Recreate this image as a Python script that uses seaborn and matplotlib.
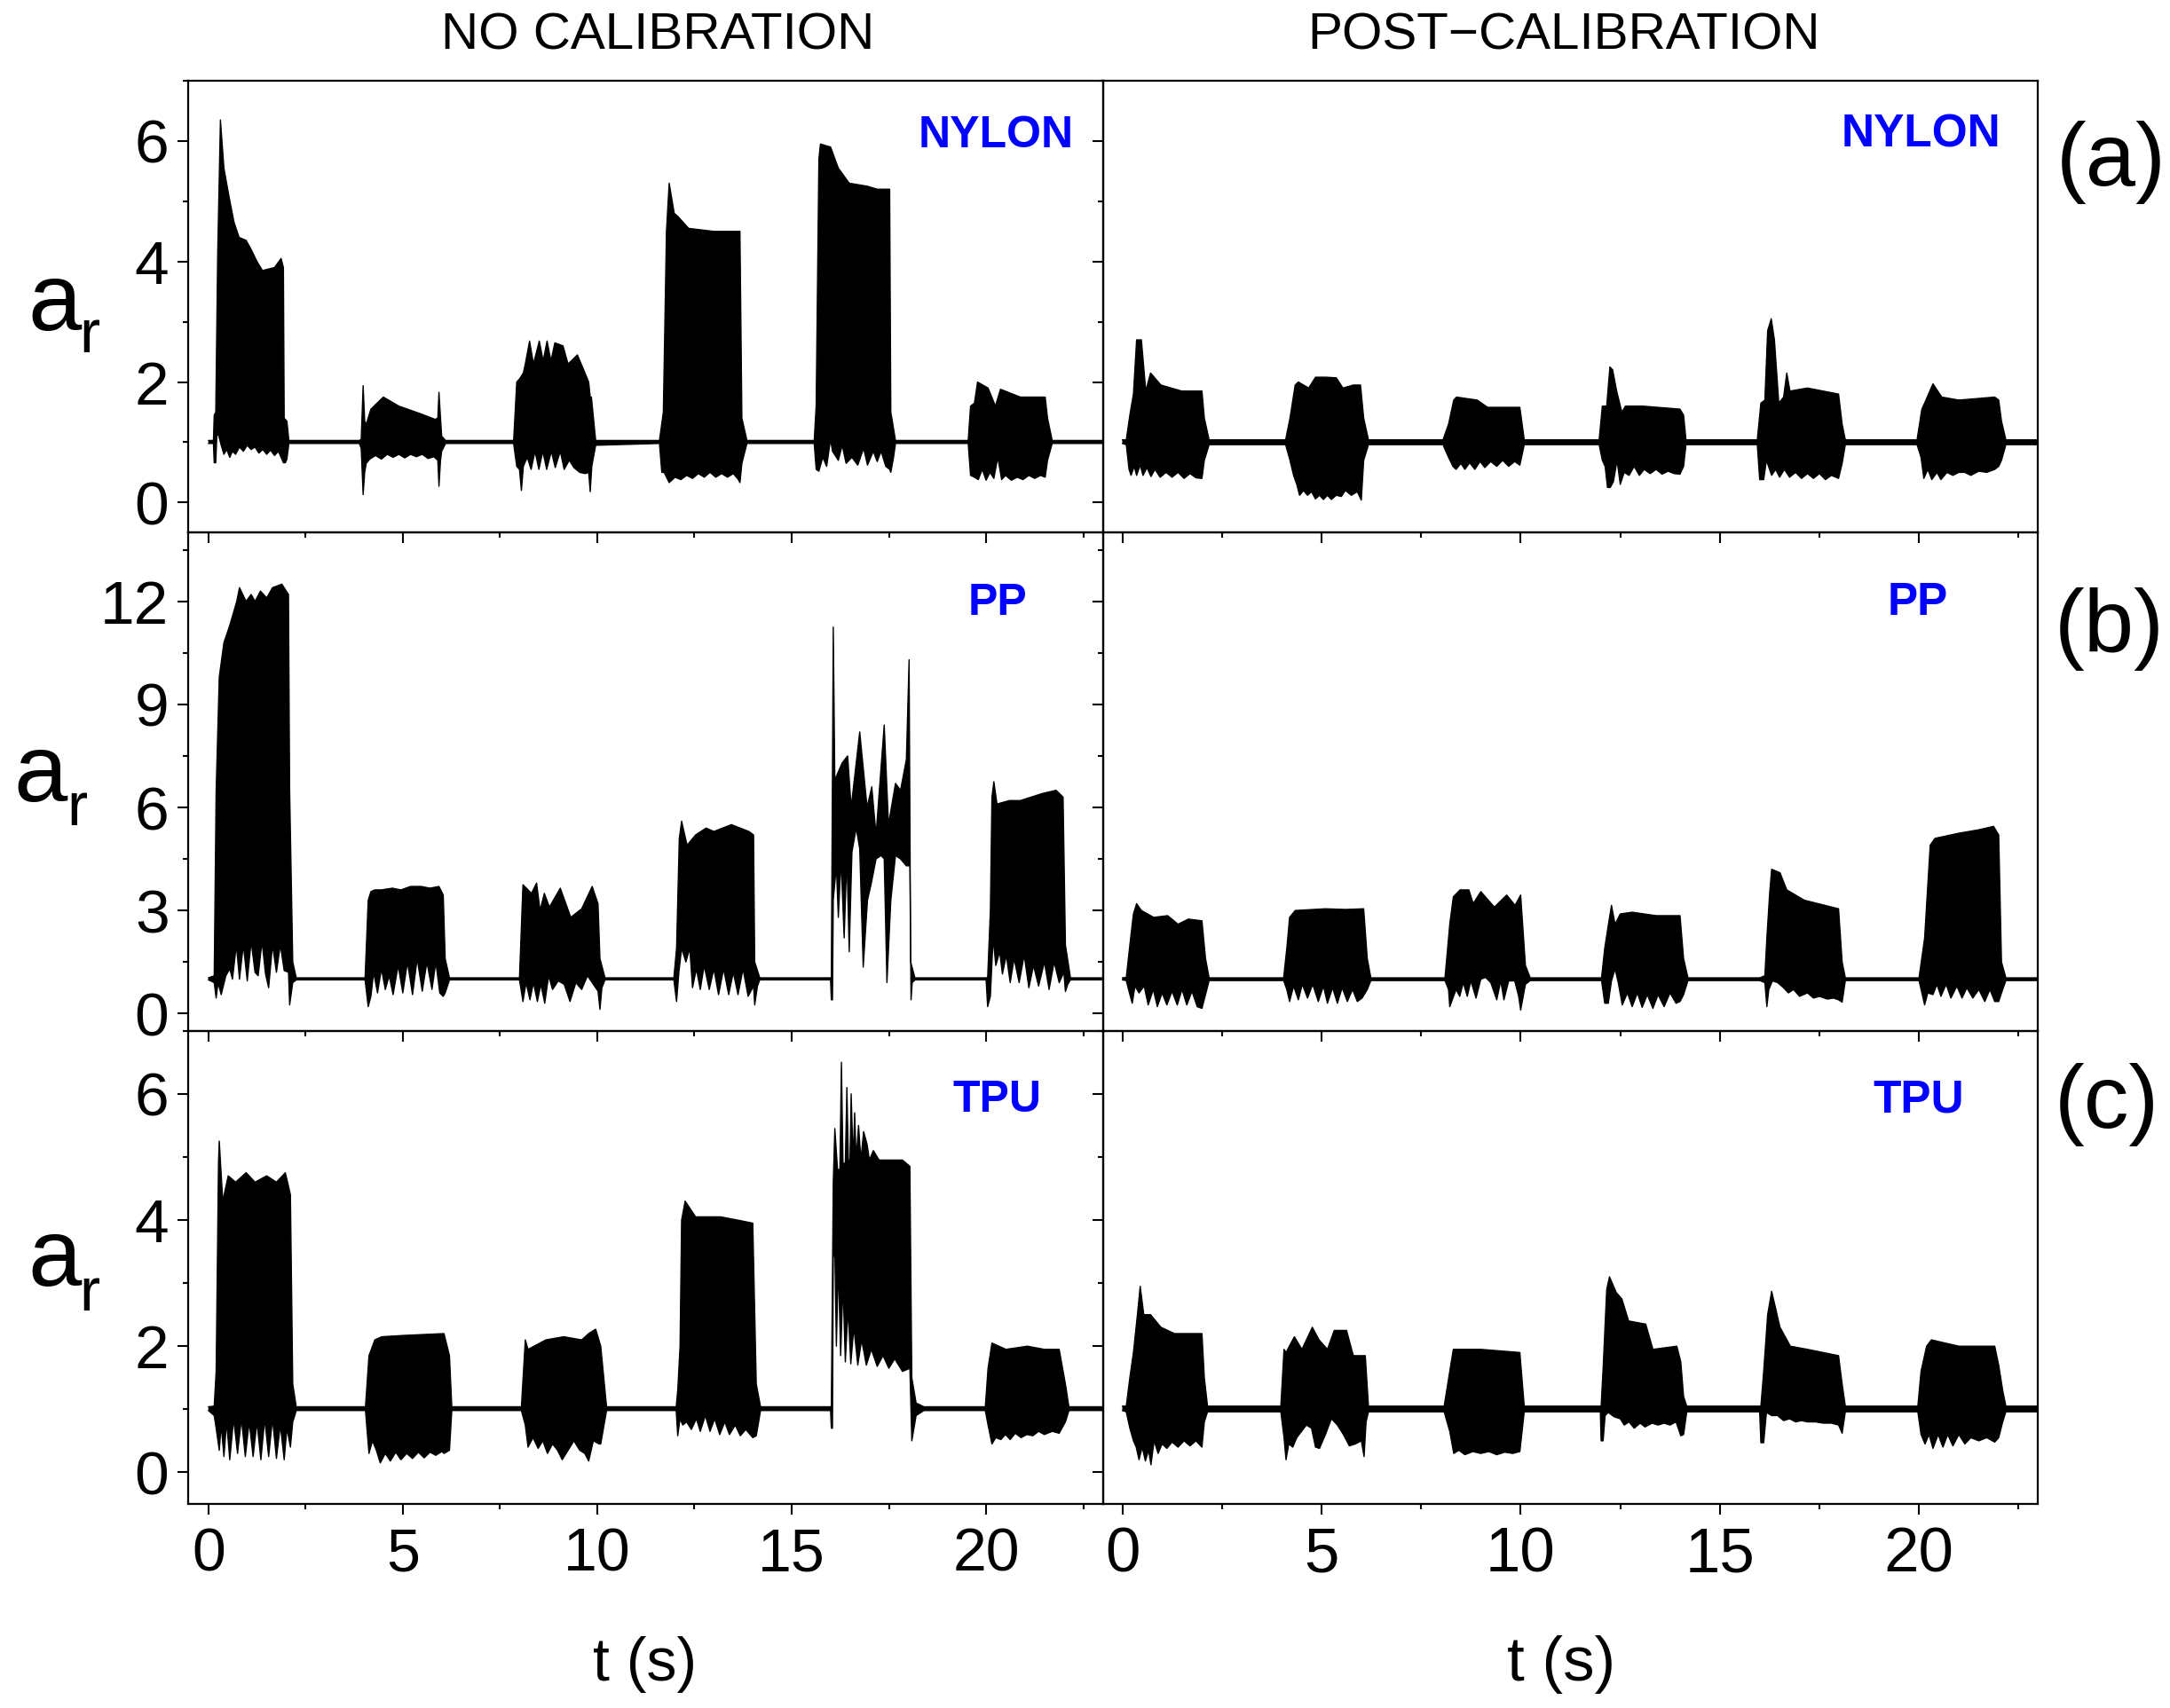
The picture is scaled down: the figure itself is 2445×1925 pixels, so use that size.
"""
Relative acceleration traces for three filaments, before and after calibration
"""

import matplotlib
matplotlib.use("Agg")
import matplotlib.pyplot as plt
import seaborn as sns
from matplotlib.ticker import MultipleLocator

# envelope of each trace: upper edge (t, hi) and lower edge (lo_t, lo)
nylon_raw_t = [0, .13, .15, .19, .24, .31, .4, .51, .66, .79, .97, 1.1, 1.25, 1.39, 1.7, 1.87, 1.93, 1.95, 2.02, 2.07,
               3.88, 3.93, 3.98, 4.02, 4.06, 4.18, 4.5, 4.9, 5.47, 5.83, 5.9, 5.93, 5.97, 6.0, 6.1,
               7.85, 7.93, 8.0, 8.05, 8.1, 8.15, 8.26, 8.36, 8.51, 8.61, 8.71, 8.81, 8.91, 9.12, 9.25, 9.49, 9.62, 9.78, 9.82, 9.85, 9.96,
               11.6, 11.7, 11.78, 11.85, 11.98, 12.07, 12.35, 13.0, 13.4, 13.63, 13.67, 13.72, 13.85,
               15.58, 15.63, 15.7, 15.74, 16.0, 16.2, 16.48, 16.94, 17.2, 17.52, 17.55, 17.67,
               19.54, 19.6, 19.7, 19.78, 20.05, 20.24, 20.37, 20.88, 21.2, 21.52, 21.58, 21.7, 23.0]
nylon_raw_hi = [1.03, 1.03, 1.45, 1.5, 4.15, 6.35, 5.55, 5.15, 4.65, 4.4, 4.35, 4.2, 4.0, 3.85, 3.9, 4.05, 3.9, 1.4, 1.35, 1.03,
                1.03, 1.05, 1.94, 1.35, 1.3, 1.55, 1.75, 1.6, 1.47, 1.38, 1.4, 1.83, 1.4, 1.1, 1.03,
                1.03, 2.0, 2.05, 2.1, 2.15, 2.3, 2.68, 2.3, 2.68, 2.35, 2.68, 2.35, 2.65, 2.6, 2.3, 2.45, 2.25, 2.0, 1.75, 1.75, 1.03,
                1.03, 1.5, 4.5, 5.3, 4.8, 4.75, 4.55, 4.5, 4.5, 4.5, 4.5, 1.4, 1.03,
                1.03, 1.6, 5.7, 5.95, 5.9, 5.55, 5.3, 5.25, 5.2, 5.2, 1.5, 1.03,
                1.03, 1.6, 1.65, 2.0, 1.9, 1.6, 1.88, 1.75, 1.75, 1.75, 1.4, 1.03, 1.03]
nylon_raw_lo_t = [0, .13, .15, .19, .22, .27, .33, .4, .47, .55, .62, .7, .8, .9, 1.0, 1.1, 1.2, 1.3, 1.4, 1.5, 1.6, 1.7, 1.8, 1.87, 1.93, 1.98, 2.02, 2.07,
                  3.88, 3.93, 3.98, 4.02, 4.06, 4.15, 4.3, 4.45, 4.6, 4.75, 4.9, 5.05, 5.2, 5.35, 5.5, 5.65, 5.8, 5.9, 5.93, 5.97, 6.0, 6.1,
                  7.85, 7.93, 8.0, 8.05, 8.1, 8.2, 8.3, 8.4, 8.5, 8.6, 8.7, 8.82, 8.92, 9.05, 9.15, 9.28, 9.4, 9.55, 9.7, 9.78, 9.82, 9.86, 9.96,
                  11.6, 11.66, 11.72, 11.78, 11.85, 12.0, 12.15, 12.3, 12.45, 12.6, 12.75, 12.9, 13.05, 13.2, 13.35, 13.5, 13.63, 13.67, 13.72, 13.85,
                  15.58, 15.63, 15.7, 15.8, 15.9, 16.0, 16.05, 16.2, 16.3, 16.4, 16.55, 16.7, 16.85, 16.95, 17.1, 17.2, 17.3, 17.42, 17.52, 17.55, 17.62, 17.67,
                  19.54, 19.6, 19.7, 19.8, 19.9, 20.0, 20.1, 20.2, 20.3, 20.4, 20.5, 20.65, 20.8, 20.95, 21.1, 21.25, 21.4, 21.52, 21.58, 21.7, 23.0]
nylon_raw_lo = [.98, .98, .66, .66, 1.15, 1.1, .95, .8, .88, .75, .85, .8, .92, .85, .95, .88, .92, .82, .88, .8, .87, .78, .85, .75, .66, .66, .72, .98,
                .98, .9, .13, .5, .65, .72, .78, .72, .8, .75, .8, .74, .8, .76, .8, .73, .76, .7, .27, .7, .85, .98,
                .98, .6, .55, .2, .6, .75, .55, .85, .55, .85, .55, .85, .58, .85, .55, .7, .58, .5, .48, .5, .18, .6, .95,
                .98, .5, .5, .42, .33, .42, .38, .45, .4, .48, .42, .5, .42, .48, .42, .48, .38, .33, .65, .98,
                .98, .55, .52, .75, .6, 1.05, .85, .7, .95, .65, .75, .62, .9, .62, .85, .68, .85, .6, .55, .5, .75, .98,
                .98, .45, .42, .38, .55, .37, .5, .4, .75, .38, .45, .37, .42, .38, .45, .4, .45, .42, .7, .98, .98]

nylon_cal_t = [0, .1, .19, .28, .36, .48, .59, .71, .97, 1.49, 2.0, 2.06, 2.18,
               4.1, 4.21, 4.34, 4.42, 4.68, 4.85, 5.11, 5.37, 5.54, 5.8, 5.98, 6.06, 6.18,
               8.05, 8.19, 8.32, 8.39, 8.91, 9.17, 9.98, 10.09,
               11.97, 12.05, 12.16, 12.24, 12.31, 12.41, 12.54, 12.63, 13.06, 14.0, 14.09, 14.15,
               15.94, 16.03, 16.13, 16.2, 16.29, 16.37, 16.48, 16.6, 16.68, 16.76, 17.2, 17.98, 18.07, 18.15,
               19.95, 20.07, 20.14, 20.35, 20.57, 21.0, 21.9, 22.0, 22.07, 22.18, 22.98]
nylon_cal_hi = [1.04, 1.04, 1.45, 1.8, 2.7, 2.7, 1.85, 2.15, 1.95, 1.85, 1.85, 1.4, 1.04,
                1.04, 1.4, 1.95, 2.0, 1.9, 2.08, 2.08, 2.07, 1.9, 1.95, 1.95, 1.4, 1.04,
                1.04, 1.3, 1.7, 1.75, 1.7, 1.58, 1.58, 1.04,
                1.04, 1.6, 1.6, 2.25, 2.2, 1.85, 1.5, 1.6, 1.6, 1.55, 1.45, 1.04,
                1.04, 1.65, 1.7, 2.85, 3.05, 2.7, 1.65, 1.75, 2.15, 1.85, 1.9, 1.8, 1.3, 1.04,
                1.04, 1.55, 1.65, 1.97, 1.75, 1.7, 1.75, 1.7, 1.35, 1.04, 1.04]
nylon_cal_lo_t = [0, .1, .17, .22, .3, .36, .45, .52, .62, .72, .82, .95, 1.1, 1.25, 1.4, 1.55, 1.7, 1.85, 2.0, 2.06, 2.18,
                  4.1, 4.21, 4.3, 4.38, 4.45, 4.55, 4.65, 4.75, 4.85, 4.95, 5.05, 5.15, 5.25, 5.37, 5.5, 5.6, 5.75, 5.9, 6.0, 6.06, 6.18,
                  8.05, 8.19, 8.3, 8.38, 8.5, 8.6, 8.72, 8.85, 8.98, 9.1, 9.25, 9.4, 9.55, 9.7, 9.85, 9.98, 10.09,
                  11.97, 12.05, 12.12, 12.18, 12.25, 12.33, 12.42, 12.5, 12.6, 12.72, 12.85, 12.98, 13.1, 13.25, 13.4, 13.55, 13.7, 13.85, 14.0, 14.09, 14.15,
                  15.94, 16.0, 16.1, 16.17, 16.3, 16.4, 16.5, 16.62, 16.75, 16.9, 17.05, 17.2, 17.35, 17.5, 17.65, 17.8, 17.98, 18.07, 18.15,
                  19.95, 20.05, 20.12, 20.22, 20.32, 20.45, 20.55, 20.7, 20.85, 21.0, 21.15, 21.3, 21.5, 21.7, 21.9, 22.0, 22.07, 22.18, 22.98]
nylon_cal_lo = [.98, .96, .55, .45, .6, .45, .62, .45, .58, .43, .55, .42, .5, .42, .5, .4, .48, .41, .4, .7, .96,
                .96, .7, .45, .3, .12, .2, .12, .18, .06, .12, .05, .12, .05, .12, .1, .2, .12, .18, .04, .7, .96,
                .96, .75, .6, .55, .65, .55, .66, .55, .68, .58, .68, .6, .7, .6, .68, .62, .96,
                .96, .7, .6, .25, .25, .35, .7, .3, .5, .45, .6, .45, .55, .48, .55, .47, .52, .48, .47, .6, .96,
                .96, .38, .38, .7, .45, .55, .42, .55, .42, .5, .4, .48, .4, .48, .38, .45, .4, .65, .96,
                .96, .75, .4, .55, .38, .5, .38, .5, .45, .5, .5, .45, .52, .5, .55, .6, .7, .96, .96]

pp_raw_t = [0, .15, .2, .28, .4, .55, .73, .8, .97, 1.1, 1.2, 1.34, 1.5, 1.65, 1.89, 2.06, 2.09, 2.17, 2.26,
            4.03, 4.11, 4.18, 4.28, 4.45, 4.73, 4.95, 5.2, 5.47, 5.7, 5.93, 6.04, 6.09, 6.2,
            8.0, 8.09, 8.31, 8.44, 8.53, 8.64, 8.77, 9.05, 9.32, 9.6, 9.87, 10.02, 10.07, 10.2,
            11.97, 12.04, 12.11, 12.17, 12.31, 12.53, 12.8, 13.0, 13.45, 13.9, 14.02, 14.05, 14.18,
            16.0, 16.02, 16.07, 16.11, 16.3, 16.44, 16.53, 16.75, 16.94, 17.06, 17.17, 17.38, 17.49, 17.67, 17.8, 17.95, 18.02, 18.06, 18.17,
            20.0, 20.04, 20.11, 20.15, 20.2, 20.28, 20.6, 20.88, 21.43, 21.8, 21.98, 22.04, 22.17, 22.98]
pp_raw_hi = [1.04, 1.1, 6.5, 9.8, 10.8, 11.3, 12.0, 12.4, 12.0, 12.2, 12.0, 12.3, 12.1, 12.4, 12.5, 12.2, 6.5, 1.5, 1.04,
             1.04, 3.3, 3.55, 3.6, 3.6, 3.65, 3.6, 3.7, 3.7, 3.65, 3.7, 3.45, 1.6, 1.04,
             1.04, 3.75, 3.5, 3.8, 3.0, 3.5, 3.1, 3.65, 2.8, 3.05, 3.7, 3.2, 1.6, 1.04,
             1.04, 1.9, 5.1, 5.6, 4.9, 5.2, 5.4, 5.3, 5.5, 5.3, 5.2, 1.5, 1.04,
             1.04, 1.05, 11.25, 6.8, 7.3, 7.5, 6.0, 8.2, 6.0, 6.6, 5.2, 8.4, 5.5, 6.7, 6.5, 7.4, 10.3, 1.5, 1.04,
             1.04, 1.05, 3.0, 6.3, 6.75, 6.1, 6.2, 6.2, 6.4, 6.5, 6.3, 2.0, 1.04, 1.04]
pp_raw_lo_t = [0, .15, .2, .25, .33, .45, .55, .62, .72, .8, .9, 1.0, 1.1, 1.2, 1.28, 1.38, 1.47, 1.55, 1.65, 1.75, 1.85, 1.95, 2.06, 2.09, 2.17, 2.26,
               4.03, 4.11, 4.18, 4.25, 4.35, 4.45, 4.55, 4.65, 4.75, 4.88, 5.0, 5.12, 5.25, 5.37, 5.5, 5.62, 5.75, 5.85, 5.95, 6.04, 6.09, 6.2,
               8.0, 8.09, 8.17, 8.27, 8.36, 8.46, 8.55, 8.65, 8.75, 8.85, 9.0, 9.15, 9.3, 9.45, 9.6, 9.75, 9.9, 10.02, 10.07, 10.12, 10.2,
               11.97, 12.04, 12.1, 12.17, 12.28, 12.38, 12.45, 12.55, 12.65, 12.75, 12.88, 13.0, 13.12, 13.25, 13.38, 13.5, 13.62, 13.75, 13.88, 14.02, 14.05, 14.12, 14.18,
               16.0, 16.02, 16.05, 16.07, 16.15, 16.2, 16.27, 16.35, 16.42, 16.48, 16.55, 16.66, 16.75, 16.84, 16.95, 17.05, 17.17, 17.3, 17.38, 17.45, 17.55, 17.67, 17.8, 17.95, 18.04, 18.07, 18.1, 18.17,
               20.0, 20.04, 20.11, 20.18, 20.25, 20.35, 20.42, 20.52, 20.62, 20.72, 20.85, 20.98, 21.1, 21.22, 21.35, 21.5, 21.62, 21.75, 21.88, 22.0, 22.04, 22.1, 22.17, 22.98]
pp_raw_lo = [.98, .9, .45, .9, .55, 1.1, 1.3, 1.0, 2.0, 1.0, 2.0, .95, 2.1, 1.2, 1.1, 2.1, 1.15, .75, 2.0, 1.2, 2.0, 1.25, 1.2, .25, .9, .98,
             .98, .2, .5, 1.2, .6, 1.3, .7, 1.1, .55, 1.4, .6, 1.5, .55, 1.6, .65, 1.5, .7, 1.5, .6, .5, .6, .98,
             .98, .35, .9, .4, .9, .35, .85, .3, 1.1, .7, .95, .85, .35, .9, .7, 1.1, .85, .65, .12, .75, .98,
             .98, .35, 1.2, 1.9, 1.5, 1.9, .75, 1.3, .7, 1.4, .7, 1.3, .55, 1.3, .55, 1.2, .55, 1.3, .5, .8, .25, .8, .98,
             .98, .4, .4, 3.3, 4.3, 2.8, 4.5, 2.2, 4.6, 1.8, 4.7, 5.4, 4.8, 1.35, 3.3, 3.8, 4.5, 4.6, 4.5, .9, 3.3, 4.6, 4.5, 4.3, 4.3, .4, .9, .98,
             .98, .2, .5, 2.2, 1.4, 1.8, 1.15, 1.7, .9, 1.6, .9, 1.7, .75, 1.4, .8, 1.5, .7, 1.5, .9, 1.2, .64, .85, .98, .98]

pp_cal_t = [0, .1, .21, .28, .36, .48, .79, 1.14, 1.4, 1.66, 2.0, 2.09, 2.18,
            4.05, 4.13, 4.2, 4.34, 5.1, 5.6, 6.06, 6.15, 6.24,
            8.1, 8.19, 8.22, 8.31, 8.48, 8.7, 8.81, 9.0, 9.34, 9.65, 9.86, 10.0, 10.12, 10.24,
            12.03, 12.11, 12.19, 12.28, 12.37, 12.5, 12.8, 13.4, 14.0, 14.09, 14.2,
            16.0, 16.13, 16.18, 16.25, 16.3, 16.51, 16.68, 17.12, 17.98, 18.07, 18.15,
            20.0, 20.14, 20.28, 20.4, 21.0, 21.5, 21.87, 22.0, 22.07, 22.18, 22.98]
pp_cal_hi = [1.04, 1.05, 2.2, 2.9, 3.2, 3.0, 2.8, 2.85, 2.6, 2.75, 2.7, 1.6, 1.04,
             1.04, 1.9, 2.8, 3.0, 3.05, 3.03, 3.05, 1.6, 1.04,
             1.04, 2.2, 2.6, 3.4, 3.6, 3.6, 3.2, 3.55, 3.1, 3.45, 3.15, 3.45, 1.4, 1.04,
             1.04, 1.9, 2.5, 3.15, 2.6, 2.9, 2.95, 2.85, 2.85, 1.6, 1.04,
             1.04, 1.1, 2.2, 3.5, 4.2, 4.1, 3.6, 3.3, 3.05, 1.5, 1.04,
             1.04, 2.2, 4.9, 5.1, 5.25, 5.35, 5.45, 5.2, 1.5, 1.04, 1.04]
pp_cal_lo_t = [0, .1, .18, .25, .32, .42, .55, .65, .78, .88, 1.0, 1.12, 1.25, 1.38, 1.5, 1.62, 1.75, 1.88, 2.0, 2.09, 2.18,
               4.05, 4.13, 4.2, 4.3, 4.42, 4.52, 4.65, 4.78, 4.92, 5.05, 5.15, 5.28, 5.4, 5.52, 5.65, 5.78, 5.9, 6.02, 6.15, 6.24,
               8.1, 8.19, 8.22, 8.3, 8.38, 8.47, 8.56, 8.66, 8.75, 8.88, 9.0, 9.12, 9.25, 9.4, 9.5, 9.58, 9.7, 9.85, 9.95, 10.0, 10.12, 10.24,
               12.03, 12.11, 12.2, 12.28, 12.37, 12.45, 12.55, 12.68, 12.8, 12.93, 13.05, 13.18, 13.32, 13.45, 13.6, 13.75, 13.9, 14.0, 14.09, 14.2,
               16.0, 16.13, 16.18, 16.23, 16.32, 16.45, 16.6, 16.72, 16.85, 17.0, 17.2, 17.35, 17.5, 17.7, 17.85, 17.98, 18.07, 18.15,
               20.0, 20.14, 20.22, 20.35, 20.45, 20.55, 20.68, 20.8, 20.95, 21.08, 21.2, 21.35, 21.5, 21.65, 21.78, 21.9, 22.0, 22.07, 22.18, 22.98]
pp_cal_lo = [.98, .96, .6, .3, .8, .6, .8, .25, .7, .2, .6, .25, .65, .25, .7, .25, .65, .2, .15, .55, .96,
             .96, .7, .35, .8, .4, .85, .45, .85, .35, .8, .3, .75, .3, .75, .35, .7, .35, .45, .7, .96,
             .96, .7, .2, .45, .7, .5, .9, .5, .95, .45, 1.0, 1.05, .9, .4, .95, .4, .95, .95, .5, .1, .85, .96,
             .96, .3, .3, .95, 1.3, .9, .25, .6, .2, .6, .18, .55, .15, .55, .2, .6, .3, .35, .55, .96,
             .96, .9, .2, .7, .95, .9, .75, .6, .7, .5, .6, .45, .5, .42, .45, .4, .33, .96,
             .96, .25, .6, .55, .85, .5, .85, .45, .8, .45, .75, .45, .7, .35, .7, .35, .35, .6, .96, .96]

tpu_raw_t = [0, .15, .2, .26, .28, .37, .51, .7, .97, 1.2, 1.5, 1.75, 1.98, 2.11, 2.17, 2.26,
             4.04, 4.13, 4.28, 4.46, 5.0, 6.06, 6.2, 6.26,
             8.05, 8.15, 8.22, 8.68, 9.14, 9.6, 9.78, 9.96, 10.09, 10.24,
             12.03, 12.07, 12.13, 12.17, 12.26, 12.53, 13.17, 13.6, 14.0, 14.09, 14.2,
             16.0, 16.02, 16.07, 16.11, 16.18, 16.24, 16.28, 16.32, 16.38, 16.42, 16.46, 16.5, 16.53, 16.58, 16.62, 16.66, 16.72, 16.78, 16.85, 16.94, 17.0, 17.1, 17.25, 17.85, 18.04, 18.09, 18.2, 18.4,
             19.98, 20.05, 20.15, 20.51, 21.06, 21.5, 21.88, 22.04, 22.13, 23.0]
tpu_raw_hi = [1.04, 1.05, 1.6, 4.9, 5.25, 4.3, 4.7, 4.6, 4.75, 4.6, 4.7, 4.6, 4.75, 4.4, 1.4, 1.04,
              1.04, 1.85, 2.1, 2.15, 2.17, 2.2, 1.85, 1.04,
              1.04, 2.1, 1.95, 2.1, 2.15, 2.1, 2.2, 2.27, 2.0, 1.04,
              1.04, 1.3, 2.0, 4.0, 4.3, 4.05, 4.05, 4.0, 3.95, 1.4, 1.04,
              1.04, 1.05, 4.6, 5.45, 4.8, 4.8, 6.5, 4.9, 4.9, 6.1, 4.95, 4.95, 6.0, 4.95, 5.7, 4.95, 5.5, 4.95, 5.4, 5.2, 4.95, 5.1, 4.95, 4.95, 4.85, 1.5, 1.1, 1.04,
              1.04, 1.65, 2.05, 1.95, 2.0, 1.95, 1.95, 1.4, 1.04, 1.04]
tpu_raw_lo_t = [0, .15, .2, .28, .33, .4, .47, .55, .65, .75, .85, .95, 1.05, 1.15, 1.25, 1.35, 1.45, 1.55, 1.65, 1.75, 1.85, 1.95, 2.02, 2.11, 2.17, 2.26,
                4.04, 4.13, 4.22, 4.32, 4.42, 4.55, 4.68, 4.82, 4.95, 5.1, 5.25, 5.4, 5.55, 5.7, 5.85, 6.0, 6.06, 6.2, 6.26,
                8.05, 8.15, 8.22, 8.35, 8.48, 8.6, 8.72, 8.85, 8.98, 9.1, 9.25, 9.4, 9.55, 9.68, 9.78, 9.9, 10.05, 10.09, 10.24,
                12.03, 12.07, 12.13, 12.2, 12.3, 12.42, 12.55, 12.65, 12.78, 12.9, 13.02, 13.15, 13.28, 13.4, 13.55, 13.68, 13.82, 14.0, 14.09, 14.2,
                16.0, 16.02, 16.05, 16.07, 16.11, 16.15, 16.2, 16.26, 16.32, 16.38, 16.45, 16.52, 16.6, 16.7, 16.8, 16.92, 17.05, 17.2, 17.35, 17.5, 17.65, 17.85, 18.04, 18.09, 18.2, 18.4,
                19.98, 20.05, 20.15, 20.25, 20.38, 20.5, 20.62, 20.75, 20.9, 21.05, 21.2, 21.35, 21.5, 21.7, 21.88, 22.04, 22.13, 23.0]
tpu_raw_lo = [.98, .9, .7, .35, .75, .25, .8, .2, .85, .3, .85, .25, .8, .25, .8, .2, .85, .25, .85, .22, .75, .2, .7, .4, .8, .98,
              .98, .3, .5, .35, .15, .3, .18, .32, .2, .3, .22, .32, .23, .32, .27, .33, .3, .35, .98,
              .98, .75, .4, .55, .38, .5, .3, .45, .35, .2, .35, .5, .35, .3, .18, .5, .45, .45, .98,
              .98, .58, .85, .75, .8, .68, .85, .65, .9, .65, .85, .6, .8, .6, .75, .58, .68, .55, .58, .98,
              .98, .7, .7, 3.4, 3.5, 2.0, 3.3, 1.85, 3.0, 1.75, 2.6, 1.72, 2.3, 1.7, 2.1, 1.7, 1.95, 1.68, 1.85, 1.65, 1.8, 1.6, 1.65, .5, .9, .98,
              .98, .75, .45, .55, .52, .6, .52, .62, .55, .6, .58, .65, .6, .65, .62, .8, .98, .98]

tpu_cal_t = [0, .1, .19, .28, .38, .45, .54, .71, .97, 1.31, 2.0, 2.06, 2.14,
             3.98, 4.06, 4.11, 4.32, 4.51, 4.77, 4.94, 5.15, 5.32, 5.63, 5.8, 6.1, 6.18,
             8.08, 8.22, 8.31, 9.0, 9.98, 10.09,
             12.0, 12.02, 12.07, 12.16, 12.23, 12.4, 12.54, 12.71, 13.14, 13.32, 13.92, 14.02, 14.09, 14.17,
             16.0, 16.03, 16.1, 16.2, 16.3, 16.51, 16.77, 17.2, 17.98, 18.07, 18.15,
             19.97, 20.05, 20.19, 20.31, 21.0, 21.9, 22.0, 22.1, 22.18, 22.98]
tpu_cal_hi = [1.05, 1.05, 1.5, 1.9, 2.5, 2.95, 2.5, 2.5, 2.3, 2.2, 2.2, 1.5, 1.05,
              1.05, 1.95, 1.9, 2.15, 1.95, 2.3, 2.1, 1.95, 2.25, 2.25, 1.85, 1.85, 1.05,
              1.05, 1.6, 1.95, 1.95, 1.9, 1.05,
              1.05, 1.05, 1.65, 2.9, 3.1, 2.85, 2.75, 2.4, 2.35, 1.95, 2.0, 1.75, 1.2, 1.05,
              1.05, 1.05, 1.6, 2.5, 2.87, 2.3, 2.0, 1.95, 1.85, 1.4, 1.05,
              1.05, 1.6, 2.0, 2.1, 2.0, 2.0, 1.7, 1.3, 1.05, 1.05]
tpu_cal_lo_t = [0, .1, .19, .28, .35, .42, .5, .58, .66, .72, .8, .9, 1.0, 1.12, 1.25, 1.4, 1.55, 1.7, 1.85, 2.0, 2.06, 2.14,
                3.98, 4.06, 4.11, 4.18, 4.28, 4.38, 4.5, 4.62, 4.75, 4.85, 4.95, 5.1, 5.25, 5.4, 5.55, 5.7, 5.85, 6.0, 6.07, 6.12, 6.18,
                8.08, 8.22, 8.32, 8.45, 8.6, 8.8, 9.0, 9.2, 9.4, 9.6, 9.8, 9.98, 10.09,
                12.0, 12.02, 12.07, 12.12, 12.2, 12.35, 12.5, 12.6, 12.72, 12.85, 13.0, 13.12, 13.3, 13.45, 13.6, 13.75, 13.9, 14.02, 14.09, 14.17,
                16.0, 16.03, 16.1, 16.17, 16.3, 16.45, 16.6, 16.75, 16.9, 17.05, 17.2, 17.4, 17.6, 17.8, 17.98, 18.07, 18.15,
                19.97, 20.05, 20.15, 20.25, 20.35, 20.48, 20.6, 20.72, 20.85, 21.0, 21.15, 21.3, 21.5, 21.7, 21.9, 22.0, 22.1, 22.18, 22.98]
tpu_cal_lo = [.98, .96, .7, .5, .4, .2, .4, .18, .35, .12, .5, .3, .45, .38, .48, .4, .5, .42, .5, .4, .8, .96,
              .96, .55, .2, .45, .4, .55, .65, .75, .7, .4, .38, .6, .85, .75, .6, .42, .45, .5, .25, .8, .96,
              .96, .65, .3, .35, .28, .33, .3, .33, .28, .32, .3, .33, .96,
              .96, .5, .5, .9, .95, .88, .85, .75, .8, .7, .78, .72, .78, .75, .78, .75, .8, .58, .6, .96,
              .96, .47, .47, .95, .9, .9, .82, .85, .8, .82, .8, .8, .78, .78, .75, .62, .96,
              .96, .6, .45, .6, .38, .6, .4, .6, .42, .6, .45, .55, .5, .55, .48, .55, .8, .96, .96]

materials = ["NYLON", "PP", "TPU"]
columns = ["NO CALIBRATION", "POST\u2212CALIBRATION"]
panel_letters = ["(a)", "(b)", "(c)"]
ylims = [(-0.5, 7), (-0.5, 14), (-0.5, 7)]
y_major = [2, 3, 2]

sns.set_theme(style="ticks")
plt.rcParams["font.family"] = ["Liberation Sans", "DejaVu Sans"]

PX_W, PX_H = 2445, 1925


def place(fig, x, y, s, **kw):
    """Put a text at a pixel position of the figure (y counted from the top)"""
    fig.text(x / PX_W, 1 - y / PX_H, s, va="baseline", color=kw.pop("color", "black"), **kw)


def draw_trace(ax, t, hi, lo_t, lo):
    # outline goes along the top edge and back along the bottom edge
    ax.fill(list(t) + list(lo_t)[::-1], list(hi) + list(lo)[::-1], color="black", lw=0)
    sns.lineplot(x=t, y=hi, ax=ax, color="black", lw=1.0, sort=False, estimator=None)
    sns.lineplot(x=lo_t, y=lo, ax=ax, color="black", lw=1.0, sort=False, estimator=None)


fig, axes = plt.subplots(3, 2, figsize=(24.45, 19.25), dpi=100,
                         gridspec_kw={"width_ratios": [1031, 1054], "height_ratios": [509, 561, 533],
                                      "left": 212 / PX_W, "right": 2296 / PX_W,
                                      "top": 1 - 91 / PX_H, "bottom": 1 - 1695 / PX_H,
                                      "wspace": 0, "hspace": 0})

traces = [
    [(nylon_raw_t, nylon_raw_hi, nylon_raw_lo_t, nylon_raw_lo), (nylon_cal_t, nylon_cal_hi, nylon_cal_lo_t, nylon_cal_lo)],
    [(pp_raw_t, pp_raw_hi, pp_raw_lo_t, pp_raw_lo), (pp_cal_t, pp_cal_hi, pp_cal_lo_t, pp_cal_lo)],
    [(tpu_raw_t, tpu_raw_hi, tpu_raw_lo_t, tpu_raw_lo), (tpu_cal_t, tpu_cal_hi, tpu_cal_lo_t, tpu_cal_lo)],
]

for row in range(3):
    for col in range(2):
        ax = axes[row, col]
        draw_trace(ax, *traces[row][col])
        ax.patch.set_alpha(0)
        ax.set_xlim((-0.52, 23.0) if col == 0 else (-0.49, 22.98))
        ax.set_ylim(ylims[row])
        ax.set_xlabel("")
        ax.set_ylabel("")
        ax.xaxis.set_major_locator(MultipleLocator(5))
        ax.xaxis.set_minor_locator(MultipleLocator(2.5))
        ax.yaxis.set_major_locator(MultipleLocator(y_major[row]))
        ax.yaxis.set_minor_locator(MultipleLocator(y_major[row] / 2))
        ax.tick_params(which="major", length=8.5, width=1.5, colors="black", direction="out")
        ax.tick_params(which="minor", length=4.5, width=1.5, colors="black", direction="out")
        ax.tick_params(axis="x", which="major", labelsize=49 if col == 0 else 51, pad=10,
                       labelbottom=row == 2)
        ax.tick_params(axis="y", which="major", labelsize=50, pad=7, labelleft=col == 0)
        for spine in ax.spines.values():
            spine.set_visible(True)
            spine.set_linewidth(1.6)
            spine.set_color("black")

# column titles
place(fig, 741, 55, columns[0], ha="center", fontsize=42)
place(fig, 1762, 55, columns[1], ha="center", fontsize=42)

# y labels, the subscript is its own text because it hangs well below the a
for a_x, a_y, r_x, r_y in [(31, 372, 89, 397), (15, 903, 75, 930), (31, 1449, 89, 1477)]:
    place(fig, a_x, a_y, "a", ha="left", fontsize=78)
    place(fig, r_x, r_y, "r", ha="left", fontsize=50)

for (x, y), letter in zip([(2317, 209), (2315, 735), (2315, 1271)], panel_letters):
    place(fig, x, y, letter, ha="left", fontsize=73)

# material names
label_spots = [(1122, 2164, 166), (1124, 2161, 693), (1124, 2162, 1253)]
for name, (x_left, x_right, y) in zip(materials, label_spots):
    place(fig, x_left, y, name, ha="center", fontsize=36, fontweight="bold", color="#0000ff")
    place(fig, x_right, y, name, ha="center", fontsize=37, fontweight="bold", color="#0000ff")

place(fig, 727, 1894, "t (s)", ha="center", fontsize=49)
place(fig, 1759, 1894, "t (s)", ha="center", fontsize=51)

fig.savefig("out.png", dpi=100)
